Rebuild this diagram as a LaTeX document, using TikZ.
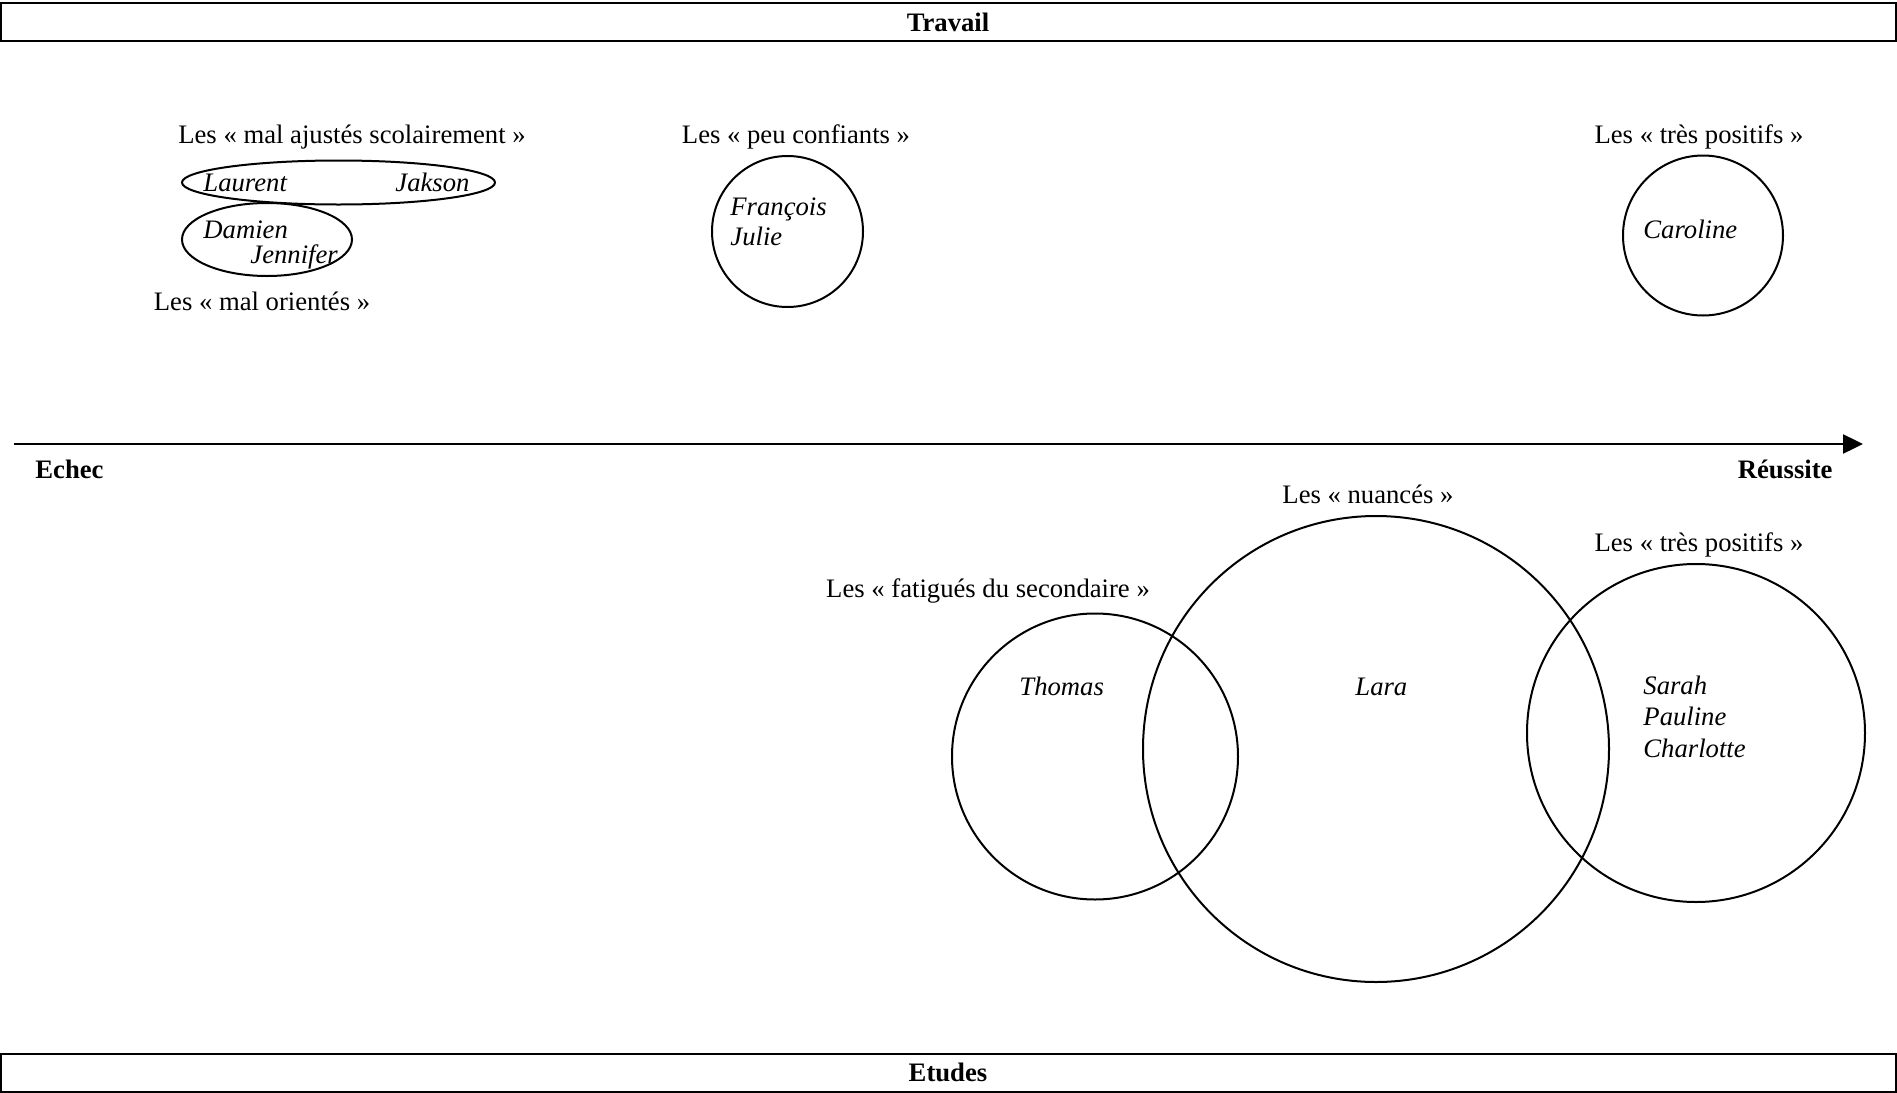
\documentclass[tikz,border=0pt]{standalone}
\usepackage{fontspec}
\setmainfont{Liberation Serif}
\usetikzlibrary{arrows.meta}
\tikzset{
  lbl/.style={inner sep=0pt, font=\fontsize{12}{14}\selectfont, anchor=base},
  nm/.style={inner sep=0pt, font=\fontsize{12}{14}\selectfont\itshape, anchor=base west},
  hd/.style={inner sep=0pt, font=\fontsize{12}{14}\selectfont\bfseries},
  ln/.style={line width=0.9pt, draw=black},
}
\begin{document}
\begin{tikzpicture}[x=0.45pt,y=-0.45pt]
\useasboundingbox (0,0) rectangle (1897,1093);
% header / footer boxes
\draw[ln] (0.6,3) rectangle (1895.5,41);
\node[hd] (travail) at (948,22) {Travail};
\draw[ln] (0.6,1054) rectangle (1895.5,1091.5);
\node[hd] (etudes) at (948,1072) {Etudes};
% axis
\coordinate (axL) at (14,444);
\coordinate (axR) at (1863,444);
\draw[ln,-{Triangle[length=9pt,width=8.6pt]}] (axL) -- (axR);
\node[hd,anchor=base west] (echec) at (35,478) {Echec};
\node[hd,anchor=base east] (reussite) at (1833,478) {Réussite};
% top-left group
\node[lbl] (malaj) at (352,143) {Les « mal ajustés scolairement »};
\draw[ln] (338.5,182.5) ellipse [x radius=156.5, y radius=22];
\node[nm] (laurent) at (203,191) {Laurent};
\node[nm] (jakson) at (395,191) {Jakson};
\draw[ln] (267,239.5) ellipse [x radius=85, y radius=36.5];
\node[nm] (damien) at (203,238) {Damien};
\node[nm] (jennifer) at (250,263) {Jennifer};
\node[lbl] (malor) at (262,310) {Les « mal orientés »};
% peu confiants
\node[lbl] (peuconf) at (796,143) {Les « peu confiants »};
\draw[ln] (787.5,231.5) circle [radius=75.5];
\node[nm] (francois) at (730,215) {François};
\node[nm] (julie) at (730,245) {Julie};
% tres positifs top
\node[lbl] (trespos1) at (1699,143) {Les « très positifs »};
\draw[ln] (1703,235.5) circle [radius=80];
\node[nm] (caroline) at (1643,238) {Caroline};
% bottom group
\node[lbl] (fatig) at (988,597) {Les « fatigués du secondaire »};
\draw[ln] (1095,756.5) circle [radius=143];
\node[nm] (thomas) at (1019,695) {Thomas};
\node[lbl] (nuances) at (1368,503) {Les « nuancés »};
\draw[ln] (1376,749) circle [radius=233];
\node[nm] (lara) at (1355,695) {Lara};
\node[lbl] (trespos2) at (1699,551) {Les « très positifs »};
\draw[ln] (1696,733) circle [radius=169];
\node[nm] (sarah) at (1643,694) {Sarah};
\node[nm] (pauline) at (1643,725) {Pauline};
\node[nm] (charlotte) at (1643,757) {Charlotte};
\end{tikzpicture}
\end{document}
